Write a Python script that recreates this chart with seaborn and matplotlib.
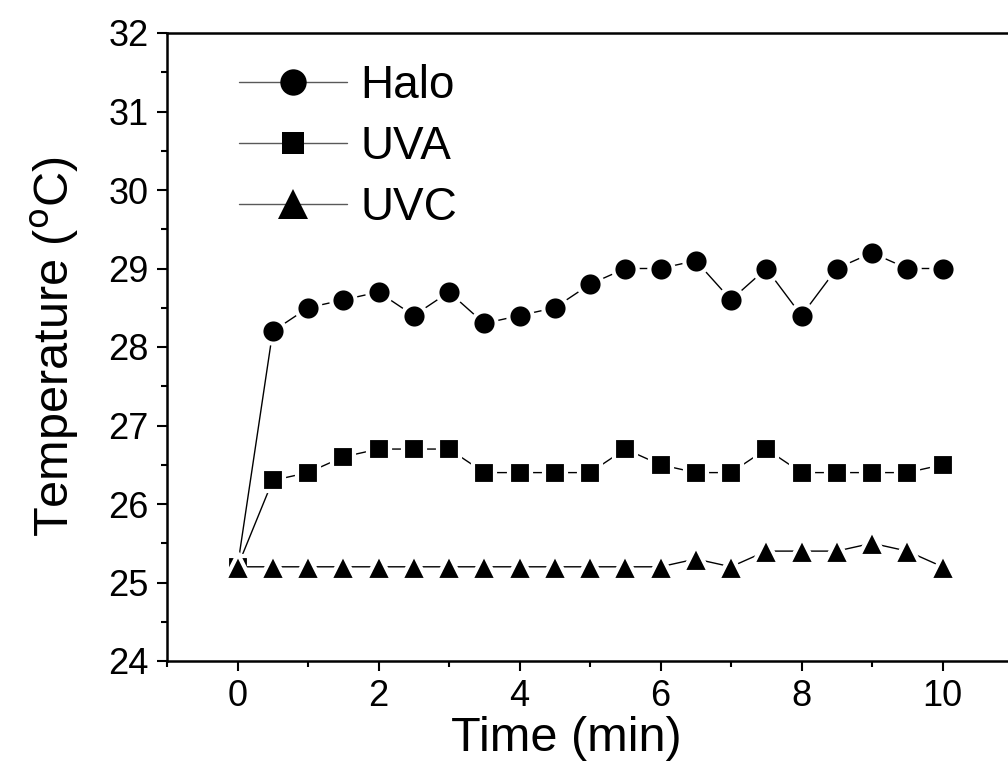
import seaborn as sns
import matplotlib.pyplot as plt
import pandas as pd
from matplotlib.lines import Line2D
from matplotlib.ticker import MultipleLocator

# dati
tempo = [0, 0.5, 1, 1.5, 2, 2.5, 3, 3.5, 4, 4.5, 5, 5.5, 6, 6.5, 7, 7.5, 8, 8.5, 9, 9.5, 10]
halo = [25.2, 28.2, 28.5, 28.6, 28.7, 28.4, 28.7, 28.3, 28.4, 28.5, 28.8, 29.0, 29.0, 29.1, 28.6, 29.0, 28.4, 29.0, 29.2, 29.0, 29.0]
uva = [25.2, 26.3, 26.4, 26.6, 26.7, 26.7, 26.7, 26.4, 26.4, 26.4, 26.4, 26.7, 26.5, 26.4, 26.4, 26.7, 26.4, 26.4, 26.4, 26.4, 26.5]
uvc = [25.2, 25.2, 25.2, 25.2, 25.2, 25.2, 25.2, 25.2, 25.2, 25.2, 25.2, 25.2, 25.2, 25.3, 25.2, 25.4, 25.4, 25.4, 25.5, 25.4, 25.2]

serie = ['Halo', 'UVA', 'UVC']
marcatori = {'Halo': 'o', 'UVA': 's', 'UVC': '^'}
dimensioni = {'Halo': 17.5, 'UVA': 16, 'UVC': 19}
dim_legenda = {'Halo': 19, 'UVA': 16.5, 'UVC': 21.5}

df = pd.DataFrame({'Time': tempo, 'Halo': halo, 'UVA': uva, 'UVC': uvc})

sns.set_style('ticks')
plt.rcParams['font.family'] = ['Liberation Sans', 'DejaVu Sans']
plt.rcParams['text.color'] = 'black'
plt.rcParams['axes.labelcolor'] = 'black'
plt.rcParams['xtick.color'] = 'black'
plt.rcParams['ytick.color'] = 'black'

fig = plt.figure(figsize=(10.08, 7.72), dpi=100)
ax = fig.add_axes([167 / 1008, 111 / 772, 846 / 1008, 628 / 772])

# linee sottili con un piccolo vuoto attorno ai marcatori (bordo bianco)
for s in serie:
    sns.lineplot(data=df, x='Time', y=s, ax=ax, color='black', lw=1,
                 marker=marcatori[s], markersize=dimensioni[s],
                 markerfacecolor='black', markeredgecolor='white',
                 markeredgewidth=3)

ax.set_xlim(-1, 11)
ax.set_ylim(24, 32)
ax.xaxis.set_major_locator(MultipleLocator(2))
ax.xaxis.set_minor_locator(MultipleLocator(1))
ax.yaxis.set_major_locator(MultipleLocator(1))
ax.yaxis.set_minor_locator(MultipleLocator(0.5))
ax.tick_params(which='major', direction='out', length=7, width=1.5, labelsize=26,
               color='black', labelcolor='black', pad=6)
ax.tick_params(which='minor', direction='out', length=4, width=1.5, color='black')
ax.tick_params(top=False, right=False, which='both')
for sp in ax.spines.values():
    sp.set_linewidth(1.8)
    sp.set_color('black')
ax.spines['right'].set_visible(False)

ax.set_xlabel('Time (min)', fontsize=35, color='black')
ax.xaxis.set_label_coords(0.472, -0.088)
ax.set_ylabel('Temperature ($^{\\mathrm{o}}$C)', fontsize=35, labelpad=20, color='black')

maniglie = [Line2D([0], [0], color='0.35', lw=1, marker=marcatori[s],
                   markersize=dim_legenda[s], markerfacecolor='black',
                   markeredgecolor='black', markeredgewidth=0) for s in serie]
leg = ax.legend(maniglie, serie, loc='upper left', frameon=False, fontsize=33,
                handlelength=2.35, handletextpad=0.3, labelspacing=0.37,
                borderaxespad=0, borderpad=0, bbox_to_anchor=(0.085, 0.95))
for t in leg.get_texts():
    t.set_color('black')

fig.savefig('out.png', dpi=100)
